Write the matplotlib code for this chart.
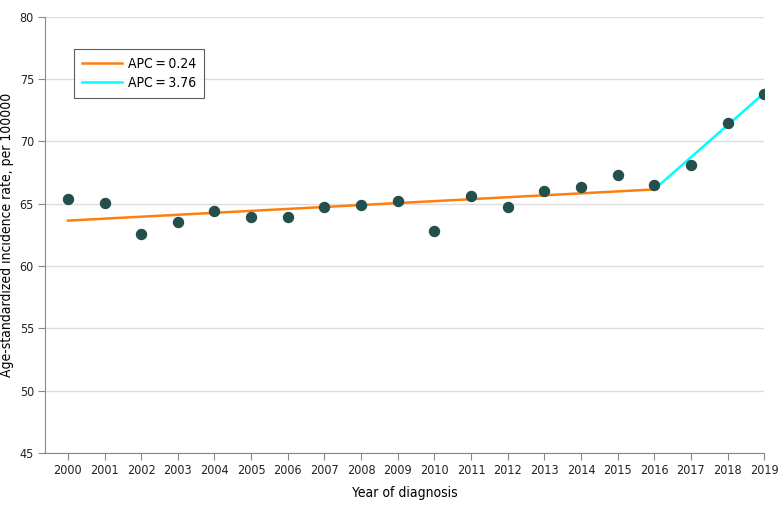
## Age-standardized incidence rate by year of diagnosis ##

import matplotlib
matplotlib.use("Agg")
import matplotlib.pyplot as plt

plt.rcParams['font.family'] = ['DejaVu Sans']
plt.rcParams['font.stretch'] = 'condensed'

years = [2000, 2001, 2002, 2003, 2004, 2005, 2006, 2007, 2008, 2009,
         2010, 2011, 2012, 2013, 2014, 2015, 2016, 2017, 2018, 2019]
rates = [65.37, 65.04, 62.6, 63.57, 64.4, 63.94, 63.94, 64.77, 64.93, 65.2,
         62.85, 65.65, 64.77, 66.03, 66.38, 67.29, 66.54, 68.09, 71.47, 73.84]

# joinpoint segments
seg1_years = [2000, 2016]
seg1_fit = [63.65, 66.15]
seg2_years = [2016, 2019]
seg2_fit = [66.15, 73.88]

fig = plt.figure(figsize=(7.8, 5.08), dpi=100)
ax = fig.add_axes([0.0577, 0.108, 0.922, 0.859])

ax.plot(seg1_years, seg1_fit, color="#ff7f0e", lw=1.8, label="APC\u2009=\u20090.24", zorder=3)
ax.plot(seg2_years, seg2_fit, color="#00ffff", lw=1.8, label="APC\u2009=\u20093.76", zorder=3)
ax.scatter(years, rates, s=52, color="#23504c", zorder=4)

ax.set_xlim(1999.375, 2019)
ax.set_ylim(45, 80)
ax.set_xticks(years)
ax.set_yticks(range(45, 81, 5))
ax.tick_params(labelsize=9, colors="#222222", length=5, width=0.8, pad=3)
ax.tick_params(axis="both", color="#888888")

ax.grid(axis="y", color="#dddddd", lw=1)
ax.set_axisbelow(True)
for s in ["top", "right"]:
    ax.spines[s].set_visible(False)
for s in ["left", "bottom"]:
    ax.spines[s].set_color("#888888")

ax.set_xlabel("Year of diagnosis", fontsize=10, labelpad=6)
ax.set_ylabel("Age-standardized incidence rate, per 100000", fontsize=10, labelpad=4)

leg = ax.legend(loc="upper left", bbox_to_anchor=(0.04, 0.927), borderaxespad=0,
                fontsize=10, frameon=True, fancybox=False, edgecolor="#333333",
                handlelength=2.9, handletextpad=0.4, borderpad=0.6, labelspacing=0.35)
leg.get_frame().set_linewidth(0.8)

plt.savefig("out.png", dpi=100)
